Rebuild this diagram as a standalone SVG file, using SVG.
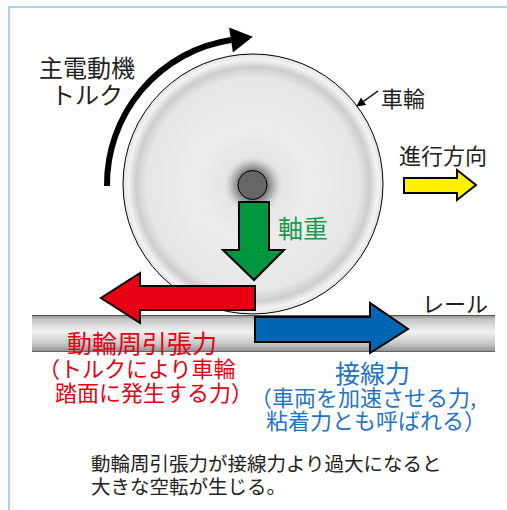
<svg xmlns="http://www.w3.org/2000/svg" width="507" height="510" viewBox="0 0 507 510">
  <style>
    text { font-family: "Noto Sans CJK JP", "Noto Sans", sans-serif; }
    .lbl { fill: #222; font-size: 22px; }
    .red { fill: #e60012; }
    .blue { fill: #1f74c6; }
    .green { fill: #1a9c4c; }
    .force { stroke: #000; stroke-width: 2; stroke-linejoin: miter; }
  </style>
  <defs>
    <radialGradient id="wheelFill" cx="0.5" cy="0.5" r="0.5">
      <stop offset="0" stop-color="#e0e0e0"/>
      <stop offset="0.45" stop-color="#ececec"/>
      <stop offset="0.82" stop-color="#e6e6e6"/>
      <stop offset="0.9" stop-color="#cdcdcd"/>
      <stop offset="0.96" stop-color="#f3f3f3"/>
      <stop offset="1" stop-color="#e2e2e2"/>
    </radialGradient>
    <radialGradient id="axleShade" cx="0.5" cy="0.5" r="0.5">
      <stop offset="0.4" stop-color="#4a4a4a" stop-opacity="0.9"/>
      <stop offset="0.7" stop-color="#8a8a8a" stop-opacity="0.5"/>
      <stop offset="1" stop-color="#e0e0e0" stop-opacity="0"/>
    </radialGradient>
    <linearGradient id="railFill" x1="0" y1="0" x2="0" y2="1">
      <stop offset="0" stop-color="#8c8c8c"/>
      <stop offset="0.12" stop-color="#c4c4c4"/>
      <stop offset="0.45" stop-color="#f2f2f2"/>
      <stop offset="0.78" stop-color="#c6c6c6"/>
      <stop offset="1" stop-color="#8c8c8c"/>
    </linearGradient>
    <marker id="tipSmall" viewBox="0 0 10 10" refX="9" refY="5" markerWidth="10" markerHeight="9" markerUnits="userSpaceOnUse" orient="auto">
      <path d="M0 0 L10 5 L0 10 Z" fill="#000"/>
    </marker>
  </defs>

  <!-- frame -->
  <path d="M9 510 V7 H507" fill="none" stroke="#86c3ec" stroke-width="1.5"/>

  <!-- rail -->
  <g id="rail">
    <rect x="32" y="315" width="463" height="37" fill="url(#railFill)"/>
    <line x1="32" y1="315.5" x2="495" y2="315.5" stroke="#555" stroke-width="1.2"/>
    <line x1="32" y1="351.5" x2="495" y2="351.5" stroke="#666" stroke-width="1.2"/>
    <text class="lbl" x="422" y="312">レール</text>
  </g>

  <!-- wheel -->
  <g id="wheel">
    <circle cx="253" cy="184" r="130" fill="url(#wheelFill)" stroke="#000" stroke-width="1"/>
    <circle cx="253" cy="185" r="30" fill="url(#axleShade)"/>
    <circle cx="252.5" cy="185" r="14.5" fill="#666" stroke="#000" stroke-width="1"/>
    <text class="lbl" x="381" y="107">車輪</text>
  </g>

  <!-- connectors: torque direction and wheel pointer -->
  <g id="connectors">
    <path d="M107 186 A146 146 0 0 1 231 40" fill="none" stroke="#000" stroke-width="6"/>
    <path d="M252.8 36.7 L229.1 27.6 L232.9 52.4 Z" fill="#000"/>
    <line x1="378" y1="91" x2="357" y2="106" stroke="#000" stroke-width="1.5" marker-end="url(#tipSmall)"/>
  </g>

  <g id="torque-label">
    <text class="lbl" x="87" y="77" font-size="24" text-anchor="middle" style="font-size:24px">主電動機</text>
    <text class="lbl" x="87" y="104" text-anchor="middle" style="font-size:24px">トルク</text>
  </g>

  <!-- direction of travel -->
  <g id="travel">
    <text class="lbl" x="399" y="164">進行方向</text>
    <path class="force" d="M404 178 H457 V170 L476 185 L457 200 V193 H404 Z" fill="#fff200" stroke-width="1.5"/>
  </g>

  <!-- axle load -->
  <g id="axle-load">
    <path class="force" d="M239 202 H269 V250 H284 L254 280 L223 250 H239 Z" fill="#009640"/>
    <text class="green" x="278" y="238" style="font-size:25px">軸重</text>
  </g>

  <!-- driving wheel tractive force -->
  <g id="tractive-force">
    <path class="force" d="M255 286 H140 V273 L101 298 L140 323 V310 H255 Z" fill="#e60012"/>
    <text class="red" x="67" y="353" style="font-size:25px">動輪周引張力</text>
    <text class="red" x="38" y="377" style="font-size:22px">（トルクにより車輪</text>
    <text class="red" x="55" y="401" style="font-size:22px">踏面に発生する力）</text>
  </g>

  <!-- tangential force -->
  <g id="tangential-force">
    <path class="force" d="M255 317 H370 V303 L408 329 L370 353 V342 H255 Z" fill="#0066b3"/>
    <text class="blue" x="335" y="383" style="font-size:25px">接線力</text>
    <text class="blue" x="250" y="406" style="font-size:22px">（車両を加速させる力,</text>
    <text class="blue" x="266" y="429" style="font-size:22px">粘着力とも呼ばれる）</text>
  </g>

  <!-- note -->
  <g id="note">
    <text class="lbl" x="91" y="471" style="font-size:19.5px">動輪周引張力が接線力より過大になると</text>
    <text class="lbl" x="91" y="494" style="font-size:19.5px">大きな空転が生じる。</text>
  </g>
</svg>
